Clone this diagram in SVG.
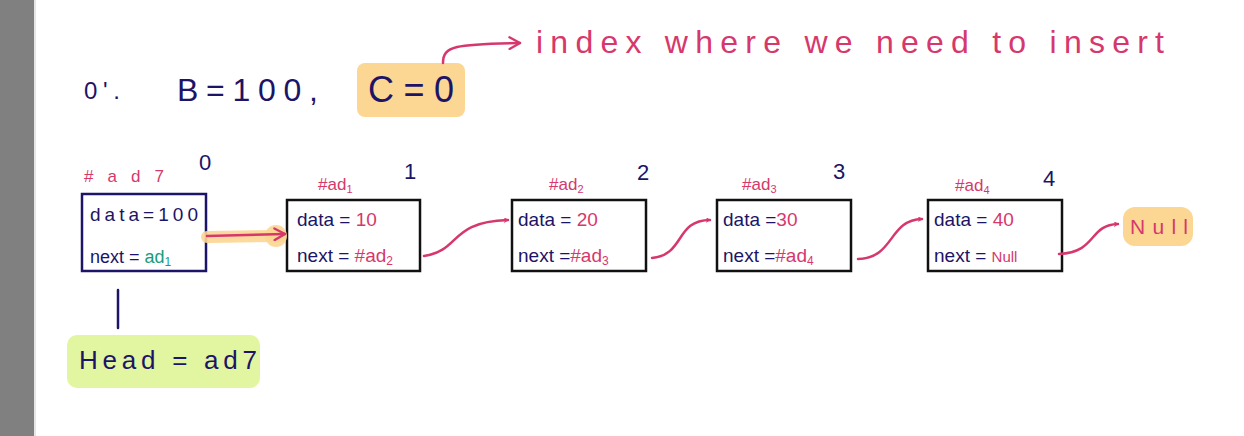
<svg xmlns="http://www.w3.org/2000/svg" width="1244" height="436" viewBox="0 0 1244 436">
<style>
.nv{fill:#1c1466;font-family:"Liberation Sans",Arial,sans-serif}
.pk{fill:#d6386c;font-family:"Liberation Sans",Arial,sans-serif}
.gr{fill:#1a9c7c}
.box{fill:#fff;stroke:#111;stroke-width:2.5}
.con{fill:none;stroke:#d6386c;stroke-width:2.5;stroke-linecap:round}
.t{font-size:19px}
.lbl{font-size:17px}
.idx{font-size:22px}
</style>
<defs>
<marker id="ah" viewBox="0 0 10 10" refX="8" refY="5" markerWidth="5" markerHeight="5" orient="auto" markerUnits="userSpaceOnUse">
<path d="M1,1 L8,5 L1,9" fill="none" stroke="#d6386c" stroke-width="2" stroke-linecap="round" stroke-linejoin="round"/>
</marker>
<marker id="ah2" viewBox="0 0 12 12" refX="10" refY="6" markerWidth="14" markerHeight="14" orient="auto" markerUnits="userSpaceOnUse">
<path d="M1,1 L10,6 L1,11" fill="none" stroke="#d6386c" stroke-width="2" stroke-linecap="round" stroke-linejoin="round"/>
</marker>
</defs>
<rect x="0" y="0" width="34" height="436" fill="#808080"/>
<rect x="34" y="0" width="2" height="436" fill="#e6e6e6"/>
<rect x="36" y="0" width="1208" height="436" fill="#fff"/>

<g id="question">
<text class="nv" x="84" y="99" font-size="24" textLength="36" lengthAdjust="spacing">0'.</text>
<text class="nv" x="177" y="101" font-size="32" textLength="141" lengthAdjust="spacing">B=100,</text>
<rect x="357" y="63" width="108" height="54" rx="8" fill="#fcd693"/>
<text class="nv" x="368" y="102" font-size="36" textLength="86" lengthAdjust="spacing">C=0</text>
</g>
<g id="note">
<text class="pk" x="536" y="53" font-size="32" textLength="628" lengthAdjust="spacing">index where we need to insert</text>
</g>

<g id="node0">
<text class="pk lbl" x="84" y="182" font-size="22" textLength="80" lengthAdjust="spacing">#ad7</text>
<text class="nv idx" x="199" y="170">0</text>
<rect x="82" y="194" width="124" height="77" fill="#fff" stroke="#1c1466" stroke-width="2.5"/>
<text class="nv" x="90" y="221" font-size="19" textLength="108" lengthAdjust="spacing">data=100</text>
<text class="nv" x="90" y="263" font-size="18">next = <tspan class="gr">ad<tspan font-size="12" dy="3">1</tspan></tspan></text>
</g>

<g id="node1">
<text class="pk lbl" x="318" y="190">#ad<tspan font-size="11" dy="3">1</tspan></text>
<text class="nv idx" x="404" y="179">1</text>
<rect class="box" x="287" y="200" width="133" height="71"/>
<text class="nv t" x="297" y="226">data = <tspan fill="#d6386c">10</tspan></text>
<text class="nv t" x="297" y="262">next = <tspan fill="#d6386c">#ad<tspan font-size="12" dy="3">2</tspan></tspan></text>
</g>

<g id="node2">
<text class="pk lbl" x="549" y="190">#ad<tspan font-size="11" dy="3">2</tspan></text>
<text class="nv idx" x="637" y="180">2</text>
<rect class="box" x="512" y="200" width="134" height="71"/>
<text class="nv t" x="518" y="226">data = <tspan fill="#d6386c">20</tspan></text>
<text class="nv t" x="518" y="262">next =<tspan fill="#d6386c">#ad<tspan font-size="12" dy="3">3</tspan></tspan></text>
</g>

<g id="node3">
<text class="pk lbl" x="742" y="190">#ad<tspan font-size="11" dy="3">3</tspan></text>
<text class="nv idx" x="833" y="179">3</text>
<rect class="box" x="717" y="200" width="134" height="71"/>
<text class="nv t" x="723" y="226">data =<tspan fill="#d6386c">30</tspan></text>
<text class="nv t" x="723" y="262">next =<tspan fill="#d6386c">#ad<tspan font-size="12" dy="3">4</tspan></tspan></text>
</g>

<g id="node4">
<text class="pk lbl" x="955" y="191">#ad<tspan font-size="11" dy="3">4</tspan></text>
<text class="nv idx" x="1043" y="186">4</text>
<rect class="box" x="928" y="200" width="134" height="71"/>
<text class="nv t" x="934" y="226">data = <tspan fill="#d6386c">40</tspan></text>
<text class="nv t" x="934" y="262">next = <tspan fill="#d6386c" font-size="15">Null</tspan></text>
</g>

<g id="null">
<rect x="1123" y="207" width="70" height="39" rx="12" fill="#fcd693"/>
<text class="pk" x="1130" y="234" font-size="21" textLength="58" lengthAdjust="spacing">Null</text>
</g>

<g id="head">
<rect x="67" y="335" width="193" height="53" rx="10" fill="#e2f5a0"/>
<text class="nv" x="79" y="369" font-size="26" textLength="178" lengthAdjust="spacing">Head = ad7</text>
</g>

<g id="connectors">
<path class="con" d="M443,63 C443,46 455,44 520,43" marker-end="url(#ah2)"/>
<line x1="207" y1="237" x2="280" y2="236" stroke="#fcd693" stroke-width="12" stroke-linecap="round" opacity="0.9"/>
<circle cx="276" cy="236" r="11" fill="#fcd693" opacity="0.9"/>
<path class="con" d="M207,236 L285,234" marker-end="url(#ah2)"/>
<path class="con" d="M424,256 C462,250 448,222 508,220" marker-end="url(#ah)"/>
<path class="con" d="M652,258 C685,255 675,220 710,220" marker-end="url(#ah)"/>
<path class="con" d="M858,259 C895,258 888,220 922,219" marker-end="url(#ah)"/>
<path class="con" d="M1059,254 C1098,252 1088,225 1118,224" marker-end="url(#ah)"/>
<line x1="118" y1="290" x2="118" y2="328" stroke="#1c1466" stroke-width="2.5" stroke-linecap="round"/>
</g>
</svg>
